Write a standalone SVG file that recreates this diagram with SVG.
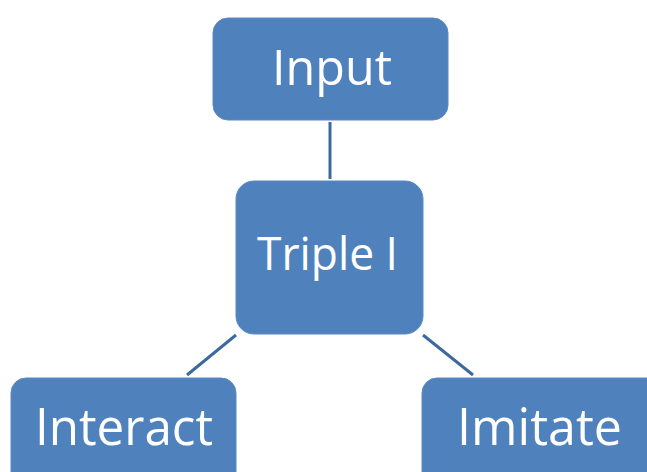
<svg xmlns="http://www.w3.org/2000/svg" width="647" height="472" viewBox="0 0 647 472">
<style>
.box{fill:#4F81BD;stroke:#5A8AC6;stroke-width:1}
.lbl{fill:#FFFFFF;font-family:"Open Sans","Noto Sans","Liberation Sans",sans-serif;text-anchor:middle}
.conn{stroke:#3D6A9E;stroke-width:3;fill:none}
</style>
<rect width="647" height="472" fill="#FFFFFF"/>
<g id="connectors">
<line class="conn" x1="330" y1="122" x2="330" y2="179"/>
<line class="conn" x1="236" y1="335" x2="187" y2="375"/>
<line class="conn" x1="423" y1="335" x2="473" y2="375"/>
</g>
<g id="input">
<rect class="box" x="213" y="18" width="235" height="102" rx="15"/>
<text class="lbl" x="332" y="85" font-size="50" textLength="120" lengthAdjust="spacingAndGlyphs">Input</text>
</g>
<g id="triple">
<rect class="box" x="236" y="181" width="187" height="153" rx="18"/>
<text class="lbl" x="327.5" y="270" font-size="46" textLength="141" lengthAdjust="spacingAndGlyphs">Triple I</text>
</g>
<g id="interact">
<rect class="box" x="11" y="378" width="225" height="110" rx="15"/>
<text class="lbl" x="124" y="445" font-size="52" textLength="178" lengthAdjust="spacingAndGlyphs">Interact</text>
</g>
<g id="imitate">
<rect class="box" x="422" y="378" width="240" height="110" rx="15"/>
<text class="lbl" x="539.5" y="445" font-size="52" textLength="165" lengthAdjust="spacingAndGlyphs">Imitate</text>
</g>
</svg>
